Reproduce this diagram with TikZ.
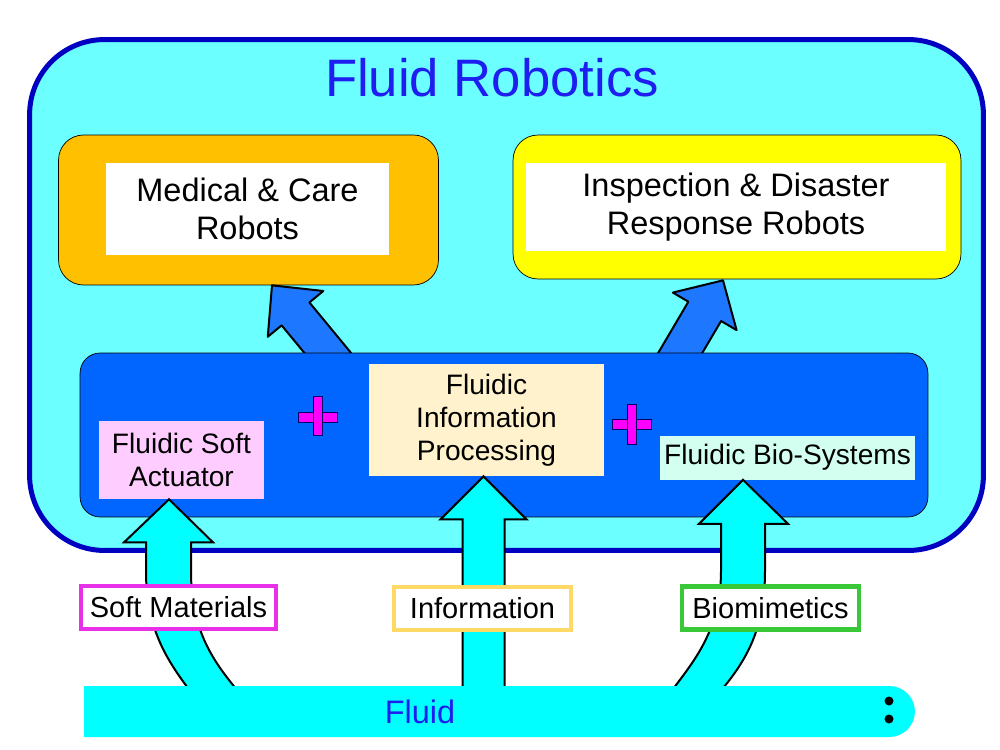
\documentclass[tikz,border=0pt]{standalone}
\usepackage{fontspec}
\setmainfont{Liberation Sans}
\definecolor{skycyan}{RGB}{108, 255, 255}
\definecolor{rimblue}{RGB}{0, 0, 192}
\definecolor{titleblue}{RGB}{30, 30, 240}
\definecolor{careorange}{RGB}{255, 192, 0}
\definecolor{rescueyellow}{RGB}{255, 255, 0}
\definecolor{techblue}{RGB}{0, 102, 255}
\definecolor{arrowblue}{RGB}{30, 120, 255}
\definecolor{fluidcyan}{RGB}{0, 255, 255}
\definecolor{softpink}{RGB}{255, 204, 255}
\definecolor{infocream}{RGB}{255, 242, 204}
\definecolor{biomint}{RGB}{210, 255, 240}
\definecolor{plusmag}{RGB}{255, 0, 255}
\definecolor{matmag}{RGB}{232, 48, 232}
\definecolor{infogold}{RGB}{255, 217, 102}
\definecolor{biogreen}{RGB}{56, 200, 56}
\usetikzlibrary{shapes.misc, calc}

\begin{document}
\begin{tikzpicture}[x=0.02cm, y=-0.02cm,
  outerbox/.style={draw=rimblue, line width=0.1cm, fill=skycyan, rounded corners=1.5cm},
  robotbox/.style={draw=black, thin, rounded corners=0.5cm},
  whitebox/.style={fill=white, align=center, font=\fontsize{18.5}{21.6}\selectfont},
  techbox/.style={draw=black, thin, fill=techblue, rounded corners=0.4cm},
  subbox/.style={align=center, inner sep=0pt, font=\fontsize{16}{18.8}\selectfont},
  srcbox/.style={fill=white, line width=0.09cm, minimum height=0.86cm, font=\fontsize{16.5}{19}\selectfont},
  bluearrow/.style={draw=black, line width=0.04cm, fill=arrowblue, line join=round},
  cyanarrow/.style={draw=black, line width=0.04cm, fill=fluidcyan},
  plusbar/.style={draw=black!60!blue, thin, fill=plusmag},
  fluidbar/.style={rounded rectangle, rounded rectangle left arc=none, fill=fluidcyan, inner sep=0pt}
]
  \useasboundingbox (0,0) rectangle (1000,750);

  % outer frame and title
  \node[outerbox, minimum width=19.08cm, minimum height=10.22cm] (robotics) at (506.5,295) {};
  \node[font=\fontsize{30}{36}\selectfont, text=titleblue] (title) at (492,78) {Fluid Robotics};

  % application boxes
  \node[robotbox, fill=careorange, minimum width=7.6cm, minimum height=3cm] (medical) at (248.5,210) {};
  \node[whitebox, minimum width=5.66cm, minimum height=1.84cm] (medtext) at (247.5,209) {Medical \& Care\\Robots};
  \node[robotbox, fill=rescueyellow, minimum width=8.96cm, minimum height=2.88cm] (inspect) at (737,207) {};
  \node[whitebox, minimum width=8.4cm, minimum height=1.78cm] (insptext) at (736,207) {\raisebox{-4pt}{\parbox{8cm}{\centering Inspection \& Disaster\\Response Robots}}};

  % blue arrows up to the applications
  \coordinate (medtip) at ($(medical.south)+(23.5,0)$);
  \coordinate (insptip) at ($(inspect.south)+(-14,1)$);
  \begin{scope}[shift={(medtip)}, rotate=-50.5]
    \draw[bluearrow] (0,0) -- (37,36) -- (37,18) -- (110,18) -- (110,-18) -- (37,-18) -- (37,-36) -- cycle;
  \end{scope}
  \begin{scope}[shift={(insptip)}, rotate=-120.5]
    \draw[bluearrow] (0,0) -- (36,37) -- (36,19) -- (100,19) -- (100,-19) -- (36,-19) -- (36,-37) -- cycle;
  \end{scope}

  % fluidic technologies
  \node[techbox, minimum width=16.96cm, minimum height=3.28cm] (tech) at (504,435) {};
  \node[subbox, fill=softpink, minimum width=3.3cm, minimum height=1.56cm] (actuator) at (181.5,460) {Fluidic Soft\\Actuator};
  \node[subbox, fill=infocream, minimum width=4.7cm, minimum height=2.24cm] (infoproc) at (486.5,420) {Fluidic\\Information\\Processing};
  \node[subbox, fill=biomint, minimum width=5.1cm, minimum height=0.88cm] (biosys) at (787.5,457.5) {Fluidic Bio-Systems};

  \draw[plusbar] (298,412) rectangle (337,422);
  \draw[plusbar] (313,396) rectangle (322,435);
  \draw[plusbar] (612,419) rectangle (651,429);
  \draw[plusbar] (627,404) rectangle (636,444);

  % cyan arrows from the fluid
  \coordinate (softtip) at ($(actuator.south)+(-12.5,0)$);
  \coordinate (infotip) at ($(infoproc.south)+(-3,0)$);
  \coordinate (biotip) at ($(biosys.south)+(-44.5,0)$);
  \draw[cyanarrow] (softtip) -- ++(44,43) -- ++(-22,0) -- ++(0,29)
    .. controls +(0,60) and +(-25,-30) .. ++(48,121) -- ++(-48,0)
    .. controls +(-22,-30) and +(0,60) .. ++(-45,-121) -- ++(0,-29) -- ++(-22,0) -- cycle;
  \draw[cyanarrow] (infotip) -- ++(43,43) -- ++(-22,0) -- ++(0,173) -- ++(-42,0) -- ++(0,-173) -- ++(-22,0) -- cycle;
  \draw[cyanarrow] (biotip) -- ++(45,44) -- ++(-23,0) -- ++(0,47)
    .. controls +(0,60) and +(25,-30) .. ++(-45,121) -- ++(-49,0)
    .. controls +(22,-30) and +(0,60) .. ++(50,-121) -- ++(0,-47) -- ++(-22,0) -- cycle;

  % sources
  \node[srcbox, draw=matmag, minimum width=3.9cm] (softmat) at (178.5,607.5) {Soft Materials};
  \node[srcbox, draw=infogold, minimum width=3.54cm] (infosrc) at (482.5,608.5) {Information};
  \node[srcbox, draw=biogreen, minimum width=3.54cm] (biomim) at (770.5,608) {Biomimetics};

  \node[fluidbar, minimum width=16.62cm, minimum height=1.02cm] (fluid) at (499.5,711.5) {};
  \node[text=titleblue, font=\fontsize{18.5}{22}\selectfont] (fluidtext) at (420,712) {Fluid};
  \fill (889,701) circle[radius=0.09cm];
  \fill (889,719) circle[radius=0.09cm];
\end{tikzpicture}
\end{document}
